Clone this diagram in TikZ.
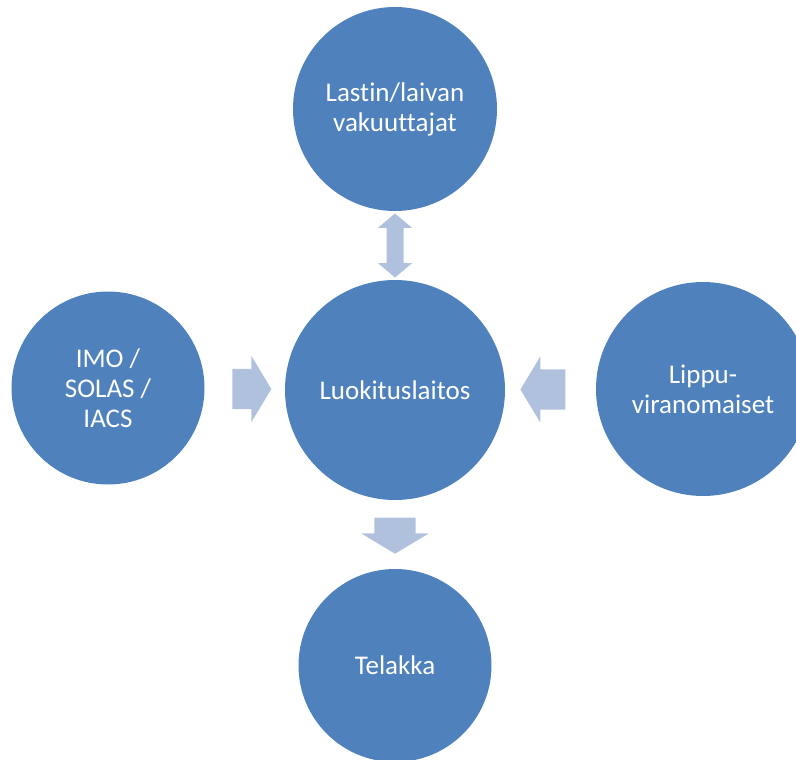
\documentclass[tikz,border=0pt]{standalone}
\usepackage{fontspec}
\setmainfont{Carlito}[Ligatures={NoCommon}]
\usetikzlibrary{shapes.arrows,calc}
\definecolor{circblue}{RGB}{79,129,189}
\definecolor{arrowblue}{RGB}{176,193,222}

\begin{document}
\begin{tikzpicture}[x=1pt,y=-1pt,
  ball/.style={circle,fill=circblue,draw=none,text=white,align=center,inner sep=0pt,
    font=\fontsize{27}{30}\selectfont},
  block/.style={single arrow,fill=arrowblue,draw=none,inner xsep=0pt,inner ysep=20pt,
    single arrow head extend=13pt,single arrow tip angle=118},
  blockdown/.style={block,inner xsep=20.5pt,inner ysep=0pt,shape border rotate=270},
  twoway/.style={double arrow,fill=arrowblue,draw=none,inner xsep=8.3pt,inner ysep=0pt,
    double arrow head extend=8.7pt,double arrow tip angle=100,shape border rotate=90}]
\useasboundingbox (0,0) rectangle (796,760);
\clip (0,0) rectangle (796,760);
% circles
\node[ball,minimum size=220pt] (hub) at (395,390) {Luokituslaitos};
\node[ball,minimum size=204pt] (insurers) at (395,109) {Lastin/laivan\\vakuuttajat};
\node[ball,minimum size=193pt] (imo) at (108,388) {IMO /\\SOLAS /\\IACS};
\node[ball,minimum size=214pt] (flag) at (703,389) {Lippu-\\viranomaiset};
\node[ball,minimum size=193pt] (yard) at (395,665.5) {Telakka};
% arrows
\node[twoway,minimum height=64pt] (a1) at ($(insurers.south)!0.5!(hub.north)$) {};
\node[block,minimum height=39pt] (a2) at ($(imo.east)!0.5!(hub.west)+(1,0)$) {};
\node[block,minimum height=45pt,shape border rotate=180] (a3) at ($(hub.east)!0.5!(flag.west)+(-1.5,0)$) {};
\node[blockdown,minimum height=36pt] (a4) at ($(hub.south)!0.5!(yard.north)+(0,-5)$) {};
\end{tikzpicture}
\end{document}
